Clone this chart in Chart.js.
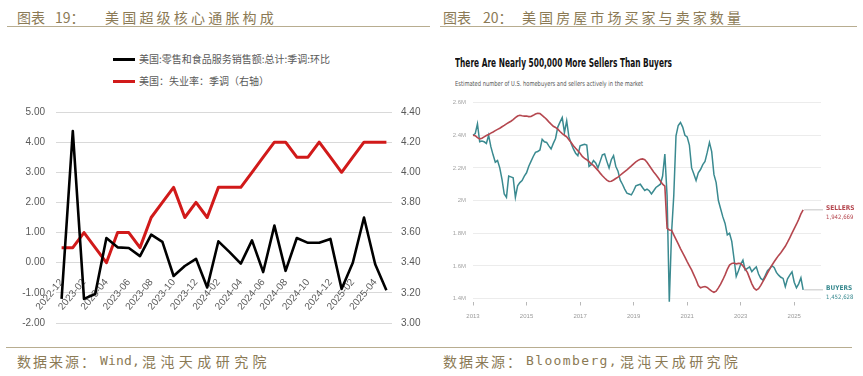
<!DOCTYPE html>
<html>
<head>
<meta charset="utf-8">
<script src="https://cdn.jsdelivr.net/npm/chart.js@4.4.1/dist/chart.umd.min.js"></script>
<style>
  html, body { margin: 0; padding: 0; background: #fff; }
  #page { position: relative; width: 863px; height: 376px; overflow: hidden; background: #fff; }
  .abs { position: absolute; white-space: nowrap; }
  .cn { font-family: "Noto Sans CJK SC", sans-serif; color: #8b7a55; font-size: 14px; line-height: 16px; }
  .mono { font-family: "DejaVu Sans Mono", "Liberation Mono", monospace; color: #8b7a55; font-size: 13px; line-height: 16px; }
  .rule { position: absolute; height: 1px; background: #b8ad90; }
  .leg { font-family: "Noto Sans CJK SC", "Liberation Sans", sans-serif; font-size: 10px; line-height: 12px; color: #595959; }
  .legline { position: absolute; height: 3px; width: 22px; }
  .bbtitle { font-family: "Liberation Sans Narrow", "DejaVu Sans Condensed", sans-serif; font-weight: bold; font-size: 13px; line-height: 14px; color: #111; transform-origin: left center; }
  .bbsub { font-family: "Liberation Sans Narrow", "DejaVu Sans Condensed", sans-serif; font-size: 7px; line-height: 8px; color: #555; transform-origin: left center; }
  canvas { position: absolute; }
</style>
</head>
<body>
<div id="page">
  <!-- headers -->
  <div class="abs cn" style="left:17px; top:9px;">图表</div>
  <div class="abs cn" style="left:55px; top:9px;">19：</div>
  <div class="abs cn fitw" data-w="172" style="left:105px; top:9px;">美国超级核心通胀构成</div>
  <div class="rule" style="left:7px; top:26px; width:423px;"></div>

  <div class="abs cn" style="left:443px; top:9px;">图表</div>
  <div class="abs cn" style="left:483px; top:9px;">20：</div>
  <div class="abs cn fitw" data-w="222" style="left:522px; top:9px;">美国房屋市场买家与卖家数量</div>
  <div class="rule" style="left:440px; top:26px; width:417px;"></div>

  <!-- left legend -->
  <div class="legline" style="left:113px; top:58px; background:#000;"></div>
  <div class="abs leg" style="left:139px; top:53px;">美国:零售和食品服务销售额:总计:季调:环比</div>
  <div class="legline" style="left:113px; top:80px; background:#d11a1a;"></div>
  <div class="abs leg" style="left:139px; top:75px;">美国：失业率：季调（右轴）</div>

  <!-- right chart title -->
  <div class="abs bbtitle fitx" data-w="217" style="left:455px; top:56px;">There Are Nearly 500,000 More Sellers Than Buyers</div>
  <div class="abs bbsub fitx" data-w="188" style="left:455px; top:80px;">Estimated number of U.S. homebuyers and sellers actively in the market</div>

  <canvas id="left" width="430" height="245" style="left:0px; top:95px;"></canvas>
  <canvas id="right" width="423" height="235" style="left:440px; top:92px;"></canvas>

  <!-- footer -->
  <div class="rule" style="left:6px; top:347px; width:846px;"></div>
  <div class="abs cn fitw" data-w="80" style="left:17px; top:353px;">数据来源：</div>
  <div class="abs mono fitw" data-w="40" style="left:100px; top:353px;">Wind,</div>
  <div class="abs cn fitw" data-w="129" style="left:142px; top:353px;">混沌天成研究院</div>
  <div class="abs cn fitw" data-w="80" style="left:443px; top:353px;">数据来源：</div>
  <div class="abs mono fitw" data-w="92" style="left:526px; top:353px;">Bloomberg,</div>
  <div class="abs cn fitw" data-w="121" style="left:620px; top:353px;">混沌天成研究院</div>
</div>

<script>
// ---------------- Left chart data ----------------
const leftMonths = ['2022-12','2023-01','2023-02','2023-03','2023-04','2023-05','2023-06','2023-07','2023-08','2023-09','2023-10','2023-11','2023-12',
  '2024-01','2024-02','2024-03','2024-04','2024-05','2024-06','2024-07','2024-08','2024-09','2024-10','2024-11','2024-12',
  '2025-01','2025-02','2025-03','2025-04','2025-05'];
const leftXTickLabels = ['2022-12','2023-02','2023-04','2023-06','2023-08','2023-10','2023-12','2024-02','2024-04','2024-06','2024-08','2024-10','2024-12','2025-02','2025-04'];
const retailSalesMoM = [-1.20, 4.37, -1.20, -1.04, 0.82, 0.51, 0.49, 0.22, 0.93, 0.69, -0.44, -0.11, 0.13, -0.82, 0.71,
  0.35, -0.03, 0.74, -0.31, 1.23, -0.27, 0.82, 0.66, 0.66, 0.79, -0.87, 0.00, 1.50, -0.05, -0.91];
const unemploymentRate = [3.5, 3.5, 3.6, 3.5, 3.4, 3.6, 3.6, 3.5, 3.7, 3.8, 3.9, 3.7, 3.8, 3.7, 3.9,
  3.9, 3.9, 4.0, 4.1, 4.2, 4.2, 4.1, 4.1, 4.2, 4.1, 4.0, 4.1, 4.2, 4.2, 4.2];
const leftSeriesNames = ['美国:零售和食品服务销售额:总计:季调:环比', '美国：失业率：季调（右轴）'];
const leftYTicks = ['-2.00','-1.00','0.00','1.00','2.00','3.00','4.00','5.00'];
const rightYTicksL = ['3.00','3.20','3.40','3.60','3.80','4.00','4.20','4.40'];

// ---------------- Right chart data (millions) ----------------
const startYear = 2013, endLabel = '2026-01';
const bbMonths = [];
for (let y = startYear; y <= 2026; y++) {
  for (let m = 1; m <= 12; m++) {
    const lab = y + '-' + String(m).padStart(2, '0');
    bbMonths.push(lab);
    if (lab === endLabel) break;
  }
}
const bbXTicks = ['2013','2015','2017','2019','2021','2023','2025'];
const bbYTicks = ['1.4M','1.6M','1.8M','2M','2.2M','2.4M','2.6M'];
const sellers = [
  2.400,2.397,2.385,2.378,2.382,2.390,2.398,2.405,2.413,2.420,2.428,2.436,
  2.443,2.452,2.460,2.470,2.478,2.486,2.496,2.508,2.518,2.522,2.519,2.517,
  2.518,2.514,2.515,2.522,2.530,2.535,2.533,2.522,2.510,2.497,2.482,2.468,
  2.455,2.448,2.437,2.423,2.410,2.400,2.390,2.372,2.355,2.336,2.320,2.305,
  2.290,2.270,2.258,2.250,2.238,2.225,2.215,2.200,2.185,2.168,2.152,2.138,
  2.125,2.117,2.118,2.126,2.135,2.143,2.155,2.166,2.177,2.188,2.200,2.212,
  2.225,2.237,2.246,2.253,2.255,2.250,2.235,2.215,2.195,2.175,2.158,2.140,
  2.120,2.100,2.088,1.830,1.820,1.818,1.790,1.762,1.735,1.706,1.680,1.654,
  1.626,1.600,1.575,1.545,1.515,1.480,1.466,1.470,1.473,1.468,1.456,1.445,
  1.438,1.445,1.465,1.488,1.515,1.545,1.578,1.605,1.615,1.617,1.612,1.615,
  1.614,1.600,1.580,1.560,1.525,1.490,1.463,1.452,1.460,1.480,1.505,1.530,
  1.555,1.580,1.604,1.625,1.645,1.664,1.680,1.700,1.720,1.745,1.772,1.800,
  1.828,1.855,1.885,1.918,1.943];
const buyers = [
  2.400,2.410,2.470,2.360,2.365,2.360,2.350,2.400,2.330,2.280,2.235,2.245,
  2.200,2.130,2.040,2.020,2.150,2.145,2.140,2.020,2.090,2.110,2.123,2.150,
  2.170,2.210,2.240,2.270,2.295,2.300,2.310,2.375,2.360,2.356,2.335,2.316,
  2.350,2.380,2.450,2.480,2.508,2.417,2.488,2.390,2.350,2.316,2.290,2.275,
  2.335,2.340,2.345,2.340,2.210,2.220,2.245,2.230,2.200,2.240,2.280,2.285,
  2.240,2.200,2.250,2.275,2.210,2.180,2.125,2.100,2.070,2.045,2.040,2.035,
  2.060,2.090,2.095,2.100,2.080,2.062,2.070,2.060,2.041,2.060,2.080,2.090,
  2.100,2.150,2.285,2.030,1.380,1.800,2.030,2.397,2.460,2.478,2.450,2.400,
  2.390,2.340,2.200,2.163,2.123,2.170,2.190,2.220,2.240,2.295,2.356,2.300,
  2.160,2.110,2.000,1.950,1.900,1.860,1.790,1.800,1.750,1.645,1.535,1.570,
  1.610,1.635,1.575,1.585,1.594,1.565,1.580,1.594,1.550,1.523,1.513,1.540,
  1.570,1.584,1.600,1.590,1.560,1.543,1.530,1.523,1.472,1.520,1.543,1.563,
  1.500,1.466,1.490,1.527,1.453];
const bbSeriesNames = ['SELLERS', 'BUYERS'];
const bbEndValues = ['1,942,669', '1,452,628'];

// ---------------- text fitting helpers ----------------
document.querySelectorAll('.fitw').forEach(el => {
  const target = +el.dataset.w;
  const n = el.textContent.length;
  const w = el.getBoundingClientRect().width;
  el.style.letterSpacing = ((target - w) / n) + 'px';
});
document.querySelectorAll('.fitx').forEach(el => {
  const target = +el.dataset.w;
  const w = el.getBoundingClientRect().width;
  el.style.transform = 'scaleX(' + (target / w) + ')';
});

Chart.defaults.animation = false;
Chart.defaults.font.family = '"Liberation Sans", Arial, sans-serif';

// ---------------- Left chart ----------------
new Chart(document.getElementById('left'), {
  type: 'line',
  data: {
    labels: leftMonths,
    datasets: [
      { label: leftSeriesNames[0], data: retailSalesMoM, yAxisID: 'y', borderColor: '#000000', backgroundColor: '#000000',
        borderWidth: 2.6, pointRadius: 0, tension: 0, borderJoinStyle: 'round' },
      { label: leftSeriesNames[1], data: unemploymentRate, yAxisID: 'y1', borderColor: '#d11a1a', backgroundColor: '#d11a1a',
        borderWidth: 3, pointRadius: 0, tension: 0, borderJoinStyle: 'round' }
    ]
  },
  options: {
    responsive: false,
    layout: { padding: { top: 14, bottom: 17, left: 0, right: 0 } },
    plugins: { legend: { display: false }, tooltip: { enabled: false } },
    scales: {
      x: {
        type: 'category',
        position: { y: 0 },
        offset: true,
        grid: { display: false },
        border: { display: false },
        ticks: {
          autoSkip: false, minRotation: 50, maxRotation: 50, padding: 6,
          color: '#595959', font: { size: 10 },
          callback: function (v) { const lab = this.getLabelForValue(v); return leftXTickLabels.includes(lab) ? lab : ''; }
        }
      },
      y: {
        position: 'left', min: -2, max: 5,
        ticks: { stepSize: 1, padding: 11, color: '#595959', font: { size: 10 },
          callback: (v, i) => leftYTicks[i] },
        grid: { color: '#d9d9d9', lineWidth: 1, drawTicks: false },
        border: { display: false },
        afterFit: s => { s.width = 56; }
      },
      y1: {
        position: 'right', min: 3.0, max: 4.4,
        ticks: { stepSize: 0.2, padding: 9, color: '#595959', font: { size: 10 },
          callback: (v, i) => rightYTicksL[i] },
        grid: { drawOnChartArea: false, drawTicks: false },
        border: { display: false },
        afterFit: s => { s.width = 38; }
      }
    }
  }
});

// ---------------- Right chart ----------------
const endLabelPlugin = {
  id: 'endLabels',
  afterDatasetsDraw(chart) {
    const { ctx, chartArea } = chart;
    chart.data.datasets.forEach((ds, i) => {
      const meta = chart.getDatasetMeta(i);
      const pt = meta.data[ds.data.length - 1];
      if (!pt) return;
      ctx.save();
      ctx.strokeStyle = '#b5b5b5';
      ctx.lineWidth = 0.8;
      ctx.beginPath();
      ctx.moveTo(pt.x + 1, pt.y);
      ctx.lineTo(chartArea.right + 2, pt.y);
      ctx.stroke();
      ctx.fillStyle = ds.borderColor;
      ctx.textBaseline = 'middle';
      ctx.textAlign = 'left';
      ctx.font = 'bold 6.5px "Liberation Sans Narrow", "DejaVu Sans Condensed", sans-serif';
      ctx.fillText(bbSeriesNames[i], chartArea.right + 5, pt.y - 1.5);
      ctx.font = '6px "Liberation Sans Narrow", "DejaVu Sans Condensed", sans-serif';
      ctx.fillText(bbEndValues[i], chartArea.right + 5, pt.y + 8);
      ctx.restore();
    });
  }
};

function isYearTick(lab) { return bbXTicks.some(y => lab === y + '-01'); }

new Chart(document.getElementById('right'), {
  type: 'line',
  data: {
    labels: bbMonths,
    datasets: [
      { label: bbSeriesNames[0], data: sellers, borderColor: '#b5474f', backgroundColor: '#b5474f',
        borderWidth: 1.6, pointRadius: 0, tension: 0, clip: 8 },
      { label: bbSeriesNames[1], data: buyers, borderColor: '#3a8a90', backgroundColor: '#3a8a90',
        borderWidth: 1.5, pointRadius: 0, tension: 0, clip: 8 }
    ]
  },
  options: {
    responsive: false,
    layout: { padding: { top: 9, right: 42, left: 0, bottom: 0 } },
    plugins: { legend: { display: false }, tooltip: { enabled: false } },
    scales: {
      x: {
        type: 'category',
        offset: false,
        grid: {
          drawOnChartArea: false, drawTicks: true, tickLength: 7, tickBorderDash: [0, 3, 3], tickWidth: 1,
          color: c => isYearTick(bbMonths[c.index]) ? '#b8b8b8' : 'rgba(0,0,0,0)'
        },
        border: { display: false },
        ticks: {
          autoSkip: false, maxRotation: 0, minRotation: 0, padding: 7,
          color: '#9a9a9a', font: { size: 6 },
          callback: function (v) { const lab = this.getLabelForValue(v); return isYearTick(lab) ? lab.slice(0, 4) : ''; }
        },
        afterFit: s => { s.height = 28.5; }
      },
      y: {
        min: 1.4, max: 2.6,
        ticks: { stepSize: 0.2, padding: 7, color: '#a5a5a5', font: { size: 6 },
          callback: (v, i) => bbYTicks[i] },
        grid: { color: '#ececec', lineWidth: 1, drawTicks: false },
        border: { display: false },
        afterFit: s => { s.width = 33; }
      }
    }
  },
  plugins: [endLabelPlugin]
});
</script>
</body>
</html>
